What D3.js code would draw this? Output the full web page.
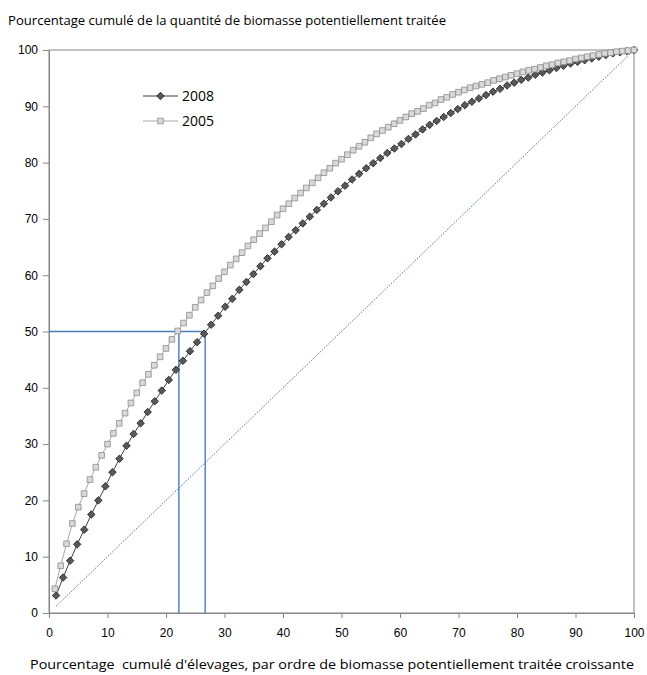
<!DOCTYPE html>
<html lang="fr">
    <head>
        <meta charset="utf-8">
        <title>Biomasse cumulée</title>
        <style>
            body { margin: 0; background: white; }
            svg { display: block; font-family: "Open Sans", "Liberation Sans", sans-serif; }
            .axis path, .axis line { stroke: #868686; }
            .axis text { font-size: 12px; fill: #000; }
        </style>
    </head>
    <body>
        <svg width="647" height="675"></svg>
        <script src="https://d3js.org/d3.v7.min.js"></script>
        <script>

            // series names (legend order)
            var years = ["2008", "2005"];

            // cumulative % of biomass, one value per farm (x = cumulative % of farms)
            var y2008 = [3.1, 6.3, 9.3, 12.2, 14.8, 17.5, 20.0, 22.5, 25.0, 27.4,
                         29.7, 31.8, 33.7, 35.7, 37.6, 39.5, 41.4, 43.2, 44.8, 46.5,
                         48.1, 49.6, 51.2, 52.8, 54.4, 55.8, 57.4, 58.8, 60.2, 61.6,
                         63.0, 64.2, 65.5, 66.8, 68.0, 69.2, 70.4, 71.6, 72.7, 73.8,
                         74.9, 75.9, 77.0, 78.0, 79.0, 79.9, 80.8, 81.7, 82.5, 83.3,
                         84.2, 85.0, 85.9, 86.7, 87.4, 88.1, 88.8, 89.5, 90.2, 90.8,
                         91.4, 92.0, 92.6, 93.1, 93.7, 94.2, 94.7, 95.1, 95.6, 96.0,
                         96.4, 96.8, 97.2, 97.6, 97.9, 98.2, 98.5, 98.8, 99.1, 99.4,
                         99.6, 99.8, 100];

            var y2005 = [4.3, 8.4, 12.3, 15.9, 18.8, 21.2, 23.7, 25.9, 28.0, 30.0,
                         31.9, 33.7, 35.5, 37.3, 39.1, 40.9, 42.4, 44.0, 45.5, 47.0,
                         48.6, 50.1, 51.5, 52.9, 54.3, 55.6, 56.9, 58.1, 59.4, 60.6,
                         61.8, 62.9, 64.0, 65.2, 66.3, 67.4, 68.4, 69.5, 70.7, 71.8,
                         72.7, 73.7, 74.6, 75.5, 76.4, 77.3, 78.2, 79.0, 79.9, 80.6,
                         81.4, 82.2, 82.9, 83.6, 84.4, 85.1, 85.7, 86.3, 86.9, 87.5,
                         88.1, 88.7, 89.1, 89.6, 90.2, 90.6, 91.2, 91.6, 92.1, 92.5,
                         92.9, 93.3, 93.6, 93.9, 94.2, 94.6, 94.9, 95.2, 95.5, 95.8,
                         96.1, 96.4, 96.6, 96.9, 97.2, 97.4, 97.7, 97.9, 98.1, 98.4,
                         98.6, 98.8, 99.0, 99.2, 99.4, 99.5, 99.7, 99.8, 99.9, 100];

            // 50% reference: x where each curve reaches 50
            var refY = 50;
            var refX = [22.2, 26.7];

            var xTicks = [0, 10, 20, 30, 40, 50, 60, 70, 80, 90, 100];
            var yTicks = [0, 10, 20, 30, 40, 50, 60, 70, 80, 90, 100];

            var svg = d3.select("svg"),
                margin = {top: 50, right: 13, bottom: 62, left: 49},
                width = +svg.attr("width") - margin.left - margin.right,
                height = +svg.attr("height") - margin.top - margin.bottom,
                g = svg.append("g").attr("transform", "translate(" + margin.left + "," + margin.top + ")");

            var x = d3.scaleLinear().domain([0, 100]).range([0, width]);
            var y = d3.scaleLinear().domain([0, 100]).range([height, 0]);

            function toPoints(vals) {
                var n = vals.length;
                return vals.map(function(v, i) { return {x: (i + 1) * 100 / n, y: v}; });
            }
            var s2008 = toPoints(y2008),
                s2005 = toPoints(y2005);

            // frame
            g.append("rect")
                .attr("width", width)
                .attr("height", height)
                .style("fill", "none")
                .style("stroke", "#868686");

            // axes
            g.append("g")
                .attr("class", "axis")
                .attr("transform", "translate(0," + height + ")")
                .call(d3.axisBottom(x).tickValues(xTicks).tickSize(5).tickPadding(10).tickSizeOuter(0));

            g.append("g")
                .attr("class", "axis")
                .call(d3.axisLeft(y).tickValues(yTicks).tickSize(6).tickPadding(5).tickSizeOuter(0));

            g.selectAll(".axis .domain").style("stroke", "#868686");

            // blue reference lines
            g.append("line")
                .attr("x1", x(0)).attr("x2", x(refX[1]))
                .attr("y1", y(refY)).attr("y2", y(refY))
                .style("stroke", "#4a7ebb").style("stroke-width", 1.4);
            g.selectAll(".vref").data(refX).enter()
              .append("line")
                .attr("class", "vref")
                .attr("x1", function(d) { return x(d); })
                .attr("x2", function(d) { return x(d); })
                .attr("y1", y(0)).attr("y2", y(refY))
                .style("stroke", "#4a7ebb").style("stroke-width", 1.4);

            // equality line
            g.append("line")
                .attr("x1", x(s2008[0].x)).attr("y1", y(s2008[0].x))
                .attr("x2", x(100)).attr("y2", y(100))
                .style("stroke", "#1f497d")
                .style("stroke-width", 0.8)
                .style("stroke-dasharray", "1.5,1.5");

            var line = d3.line()
                .x(function(d) { return x(d.x); })
                .y(function(d) { return y(d.y); });

            var diamond = d3.symbol().type(d3.symbolDiamond2).size(36);
            var square = d3.symbol().type(d3.symbolSquare).size(32);

            // 2008
            g.append("path").datum(s2008)
                .attr("d", line)
                .style("fill", "none").style("stroke", "#404040").style("stroke-width", 1);
            g.selectAll(".m2008").data(s2008).enter()
              .append("path")
                .attr("class", "m2008")
                .attr("d", diamond)
                .attr("transform", function(d) { return "translate(" + x(d.x) + "," + y(d.y) + ")"; })
                .style("fill", "#595959").style("stroke", "#1a1a1a").style("stroke-width", 0.8);

            // 2005
            g.append("path").datum(s2005)
                .attr("d", line)
                .style("fill", "none").style("stroke", "#a6a6a6").style("stroke-width", 1);
            g.selectAll(".m2005").data(s2005).enter()
              .append("path")
                .attr("class", "m2005")
                .attr("d", square)
                .attr("transform", function(d) { return "translate(" + x(d.x) + "," + y(d.y) + ")"; })
                .style("fill", "#d9d9d9").style("stroke", "#8c8c8c").style("stroke-width", 0.8);

            // legend
            var legend = svg.append("g").attr("transform", "translate(143,96)");
            var lstyles = [
                {stroke: "#404040", fill: "#595959", mstroke: "#1a1a1a", sym: diamond},
                {stroke: "#a6a6a6", fill: "#d9d9d9", mstroke: "#8c8c8c", sym: square}
            ];
            years.forEach(function(name, i) {
                var row = legend.append("g").attr("transform", "translate(0," + (i * 25) + ")");
                row.append("line")
                    .attr("x1", 0).attr("x2", 35)
                    .style("stroke", lstyles[i].stroke).style("stroke-width", 1);
                row.append("path")
                    .attr("d", lstyles[i].sym)
                    .attr("transform", "translate(17.5,0)")
                    .style("fill", lstyles[i].fill)
                    .style("stroke", lstyles[i].mstroke).style("stroke-width", 0.8);
                row.append("text")
                    .attr("x", 39).attr("y", 5)
                    .style("font-size", "14px")
                    .text(name);
            });

            // titles
            svg.append("text")
                .attr("x", 8).attr("y", 25)
                .attr("textLength", 438).attr("lengthAdjust", "spacingAndGlyphs")
                .style("font-size", "13px")
                .text("Pourcentage cumulé de la quantité de biomasse potentiellement traitée");

            svg.append("text")
                .attr("x", 30).attr("y", 669)
                .attr("textLength", 604).attr("lengthAdjust", "spacingAndGlyphs")
                .style("font-size", "13px")
                .style("white-space", "pre")
                .text("Pourcentage  cumulé d'élevages, par ordre de biomasse potentiellement traitée croissante");

        </script>
    </body>
</html>
